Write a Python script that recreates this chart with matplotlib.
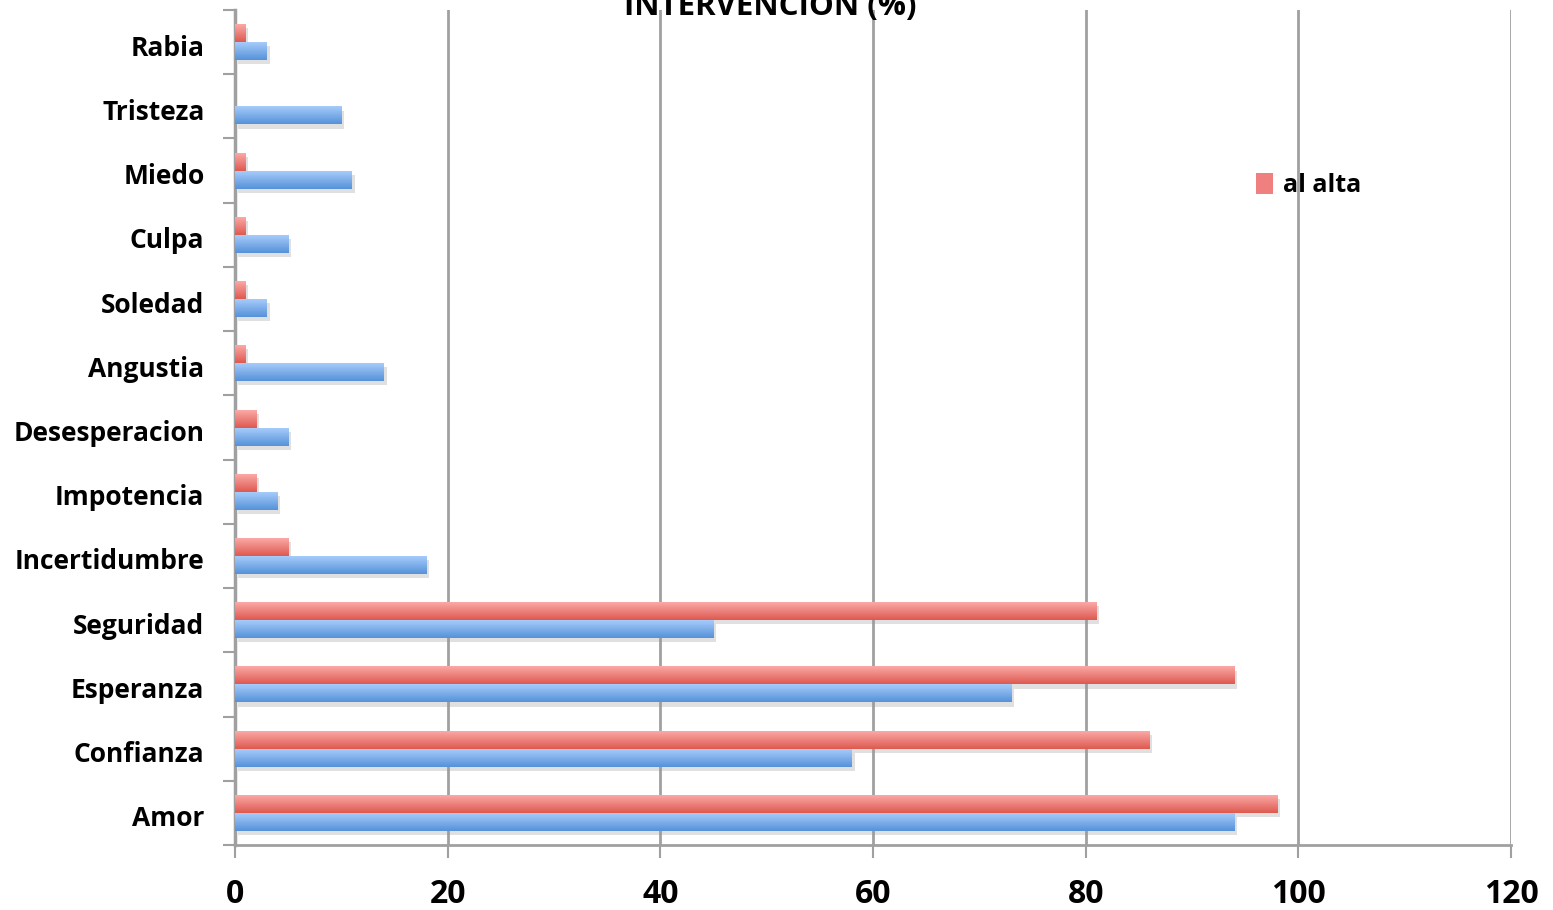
import numpy as np
import matplotlib.pyplot as plt
import matplotlib.transforms as mtransforms
from matplotlib.colors import LinearSegmentedColormap
from matplotlib.patches import Patch
import matplotlib.patheffects as pe

categories = ["Amor", "Confianza", "Esperanza", "Seguridad", "Incertidumbre",
              "Impotencia", "Desesperacion", "Angustia", "Soledad", "Culpa",
              "Miedo", "Tristeza", "Rabia"]
al_ingreso = [94, 58, 73, 45, 18, 4, 5, 14, 3, 5, 11, 10, 3]
al_alta = [98, 86, 94, 81, 5, 2, 2, 1, 1, 1, 1, 0, 1]
xticks = [0, 20, 40, 60, 80, 100, 120]

plt.rcParams['font.family'] = ['Open Sans', 'DejaVu Sans']

fig = plt.figure(figsize=(15.53, 9.10), dpi=100)
ax = fig.add_axes([0.1513, 0.0714, 0.8217, 0.9176])

y = np.arange(len(categories))
h = 0.28
blue_cmap = LinearSegmentedColormap.from_list("b", ["#5592da", "#a7cbfa"])
red_cmap = LinearSegmentedColormap.from_list("r", ["#dd5a50", "#fca8a6"])

shadow = [pe.SimplePatchShadow(offset=(2, -3), shadow_rgbFace="#999999", alpha=0.3), pe.Normal()]
bars_b = ax.barh(y - h / 2, al_ingreso, height=h, color="#7fb0ec", path_effects=shadow, zorder=2)
bars_r = ax.barh(y + h / 2, al_alta, height=h, color="#f08080", path_effects=shadow, zorder=2)

# gradient fill on each bar
grad = np.linspace(0, 1, 64).reshape(-1, 1)
for bars, cmap in [(bars_b, blue_cmap), (bars_r, red_cmap)]:
    for b in bars:
        if b.get_width() <= 0:
            continue
        x0, y0 = b.get_x(), b.get_y()
        ax.imshow(grad, cmap=cmap, aspect="auto", origin="lower",
                  extent=(x0, x0 + b.get_width(), y0, y0 + b.get_height()), zorder=3)

ax.set_xlim(0, 120)
ax.set_ylim(-0.5, len(categories) - 0.5)
ax.set_xticks(xticks)
ax.set_xticklabels([str(t) for t in xticks], fontsize=23, fontweight="bold")
ax.set_yticks(y)
ax.set_yticklabels(categories, fontsize=19, fontweight="bold")
ax.set_yticks(np.arange(-0.5, len(categories)), minor=True)
ax.tick_params(axis="y", which="major", length=0, pad=22)
ax.tick_params(axis="y", which="minor", length=9, width=1.5, color="#a0a0a0")
ax.tick_params(axis="x", length=9, width=1.5, color="#a0a0a0", pad=15)

offset = mtransforms.ScaledTranslation(0, -3 / 100, fig.dpi_scale_trans)
for lab in ax.get_yticklabels():
    lab.set_transform(lab.get_transform() + offset)

ax.grid(axis="x", color="#a0a0a0", linewidth=2, zorder=0)
ax.set_axisbelow(True)
for s in ["top", "right"]:
    ax.spines[s].set_visible(False)
ax.spines["left"].set_color("#a0a0a0")
ax.spines["left"].set_linewidth(2.5)
ax.spines["bottom"].set_color("#a0a0a0")
ax.spines["bottom"].set_linewidth(2)

fig.text(0.496, 0.9835, "INTERVENCION (%)", ha="center", va="baseline",
         fontsize=22.5, fontweight="bold")

leg = ax.legend(handles=[Patch(facecolor="#f08080", label="al alta")],
                loc="center left", bbox_to_anchor=(0.80, 0.79), frameon=False,
                prop={"size": 18, "weight": "bold"}, handlelength=0.7,
                handleheight=0.9, handletextpad=0.4, borderpad=0, borderaxespad=0)

fig.savefig("out.png", dpi=100)
